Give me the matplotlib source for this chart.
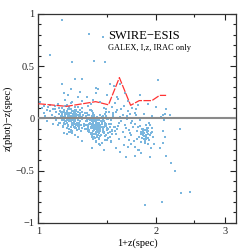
import matplotlib
matplotlib.use("Agg")
import matplotlib.pyplot as plt
from matplotlib.ticker import FixedLocator, MultipleLocator, NullFormatter, FixedFormatter

# ---- data ----
xa = [1.01,1.02,1.03,1.03,1.04,1.05,1.05,1.06,1.07,1.08,1.09,1.09,1.10,1.10,1.11,1.11,1.12,1.12,1.13,1.13,1.13,1.07,1.12,1.10]
ya = [0.16,0.10,0.12,0.05,0.02,0.08,-0.03,0.11,0.07,0.03,0.09,-0.05,0.12,0.01,-0.02,0.06,0.14,-0.06,0.04,-0.04,0.10,0.13,0.00,0.09]

xb = [1.15,1.18,1.21,1.24,1.27,1.16,1.19,1.22,1.25,1.28,
      1.17,1.20,1.23,1.26,1.29,1.15,1.19,1.22,1.24,1.27,
      1.16,1.18,1.20,1.23,1.25,1.28,1.17,1.21,1.24,1.26,
      1.15,1.18,1.20,1.22,1.25,1.27,1.29,1.16,1.19,1.23,
      1.17,1.20,1.22,1.24,1.26,1.28,1.15,1.18,1.21,1.25,
      1.16,1.19,1.21,1.23,1.26,1.29,1.17,1.20,1.22,1.24,
      1.18,1.21,1.23,1.27,1.15,1.19,1.22,1.25,1.28,1.17,
      1.20,1.24,1.26,1.16,1.18,1.21,1.23,1.27,1.29,1.19,
      1.22,1.25,1.17,1.20,1.24,1.26,1.18,1.21,1.23,1.28,
      1.16,1.19,1.22,1.25,1.27,1.20,1.23,1.18,1.21,1.24,
      1.15,1.21,1.28,1.17,1.24,1.19,1.29,1.26,1.22,1.16,
      1.18,1.22,1.26,1.29,1.20,1.24]
yb = [0.02,-0.01,0.05,-0.03,0.01,-0.05,0.03,-0.02,0.08,-0.06,
      0.00,0.04,-0.04,0.06,-0.01,0.10,-0.07,0.02,-0.09,0.03,
      -0.02,0.07,-0.03,0.01,-0.05,0.05,0.12,-0.08,0.00,-0.02,
      0.04,-0.04,0.09,-0.06,0.02,-0.10,0.01,0.06,-0.01,0.03,
      -0.03,0.00,0.07,-0.05,0.11,-0.03,-0.02,0.05,-0.11,0.04,
      0.01,-0.06,0.02,-0.08,-0.01,0.06,0.03,-0.03,-0.04,0.08,
      -0.02,0.09,-0.01,-0.07,0.06,0.01,-0.12,0.02,0.00,-0.05,
      0.05,-0.02,0.03,0.08,-0.09,0.00,0.04,-0.04,0.10,-0.02,
      0.01,-0.06,0.02,-0.01,0.05,-0.07,0.13,-0.03,0.06,0.02,
      -0.04,0.03,-0.02,0.07,-0.08,-0.10,-0.05,0.00,0.15,0.11,
      0.33,0.28,0.25,0.18,0.38,0.22,0.17,0.20,0.16,0.24,
      -0.15,-0.14,-0.18,-0.22,-0.13,-0.16]

xh = [1.135,1.145,1.155,1.165,1.175,1.185,1.195,1.205,1.215,1.225,
      1.235,1.245,1.255,1.265,1.275,1.285,1.295,1.305,1.315,1.325,
      1.142,1.158,1.172,1.188,1.203,1.212,1.228,1.242,1.257,1.268,
      1.283,1.297,1.312,1.138,1.152,1.168,1.182,1.198,1.208,1.222,
      1.238,1.252,1.262,1.278,1.292,1.308,1.322,1.163,1.193,1.233]
yh = [-0.04,0.06,-0.08,0.01,-0.03,0.04,-0.10,0.02,-0.06,0.07,
      -0.01,-0.09,0.03,-0.05,0.08,-0.12,0.00,-0.07,0.05,-0.03,
      0.02,-0.02,-0.05,0.09,-0.01,-0.13,0.04,-0.08,-0.04,0.01,
      -0.06,0.03,-0.10,0.07,-0.07,0.05,-0.04,0.11,-0.02,-0.06,
      0.06,-0.11,-0.01,0.03,-0.09,-0.05,0.02,-0.14,0.00,-0.03]

xc = [1.33,1.36,1.39,1.42,1.45,1.48,1.51,1.34,1.37,1.40,
      1.43,1.46,1.49,1.35,1.38,1.41,1.44,1.47,1.50,1.33,
      1.36,1.39,1.42,1.45,1.48,1.34,1.37,1.40,1.43,1.46,
      1.41,1.38,1.44,1.40,1.42,1.39,1.43,1.41,1.37,1.45,
      1.35,1.38,1.41,1.44,1.47,1.50,1.36,1.39,1.42,1.40,
      1.43,1.41,1.38,1.44,1.46,1.33,1.37,1.40,1.42,1.39,
      1.41,1.43,1.45,1.48,1.35,1.38,1.40,1.42,1.44,1.36,
      1.39,1.41,1.43,1.47,1.34,1.37,1.40,1.42,1.38,1.41,
      1.44,1.46,1.49,1.52,1.35,1.39,1.43,1.40,1.42,1.41,
      1.37,1.45,1.38,1.44,1.40,1.36,1.43,1.39,1.41,1.42,
      1.34,1.38,1.42,1.47,1.50,1.36,1.44,1.40,1.49,1.33,
      1.37,1.43,1.47,1.40,1.51]
yc = [-0.03,-0.08,0.01,-0.12,-0.05,0.04,-0.10,-0.06,0.02,-0.15,
      -0.02,-0.09,0.06,-0.11,-0.04,-0.07,0.03,-0.13,-0.01,0.05,
      -0.14,-0.06,-0.09,0.00,-0.17,-0.08,-0.03,-0.10,-0.19,0.02,
      -0.05,-0.12,-0.07,-0.02,-0.16,-0.09,-0.04,-0.11,0.07,-0.08,
      -0.01,-0.06,-0.13,-0.10,-0.03,-0.21,-0.09,-0.18,-0.05,-0.08,
      -0.14,0.01,-0.20,-0.06,-0.12,-0.10,-0.07,-0.04,-0.02,-0.15,
      -0.09,-0.11,-0.24,0.00,-0.05,-0.01,-0.13,-0.07,-0.17,0.08,
      -0.03,-0.10,-0.06,-0.14,-0.12,-0.16,-0.22,-0.04,-0.08,-0.02,
      -0.26,-0.09,-0.05,-0.13,0.03,-0.11,-0.01,-0.07,-0.12,-0.18,
      -0.05,-0.03,0.04,-0.08,-0.06,-0.02,-0.20,-0.10,-0.04,-0.09,
      0.12,0.18,0.28,0.10,0.22,0.14,0.16,0.24,0.09,0.20,
      -0.28,-0.25,-0.30,-0.23,-0.19]

xi = [1.325,1.335,1.345,1.355,1.365,1.375,1.385,1.395,1.405,1.415,
      1.425,1.435,1.445,1.455,1.465,1.475,1.485,1.495,1.505,1.515,
      1.525,1.535,1.545,1.555,1.565,1.575,1.332,1.348,1.362,1.378,
      1.392,1.408,1.422,1.438,1.452,1.468,1.482,1.498,1.512,1.528,
      1.342,1.358,1.372,1.388,1.402,1.418,1.432,1.448,1.462,1.478,
      1.492,1.508,1.522,1.538,1.352,1.368,1.398,1.428,1.458,1.488]
yi = [-0.06,0.03,-0.11,-0.02,-0.15,0.05,-0.08,-0.19,-0.03,-0.12,
      0.00,-0.07,-0.16,-0.04,-0.10,-0.21,0.02,-0.09,-0.14,-0.05,
      -0.18,-0.02,-0.11,0.04,-0.08,-0.15,-0.01,-0.13,-0.05,-0.09,
      -0.02,-0.17,-0.06,-0.12,0.01,-0.08,-0.04,-0.11,0.06,-0.23,
      -0.09,-0.04,-0.14,0.03,-0.07,-0.10,-0.20,-0.03,-0.13,-0.06,
      -0.16,-0.01,-0.08,-0.12,0.08,-0.18,-0.10,-0.05,-0.02,-0.07]

xd = [1.53,1.55,1.57,1.59,1.61,1.63,1.65,1.67,1.69,1.71,
      1.54,1.56,1.58,1.60,1.62,1.64,1.66,1.68,1.70,1.73,
      1.53,1.57,1.61,1.65,1.69,1.55,1.59,1.63,1.67,1.72,
      1.54,1.58,1.62,1.66,1.70,1.56,1.60,1.64,1.68,1.72,
      1.56,1.62,1.66,1.69,1.59,1.74,1.71,1.75,1.73,1.72]
yd = [-0.05,0.02,-0.12,0.08,-0.20,-0.03,0.12,-0.09,-0.27,0.04,
      -0.15,0.00,0.06,-0.07,-0.32,0.03,-0.18,-0.01,-0.11,0.10,
      -0.22,0.15,-0.04,-0.26,0.07,0.05,-0.10,0.09,-0.37,-0.16,
      0.11,-0.28,0.01,-0.06,-0.21,-0.08,0.19,-0.13,0.02,-0.04,
      0.31,0.33,0.24,0.17,0.20,-0.08,-0.14,-0.22,-0.03,-0.25]

xe = [1.76,1.79,1.82,1.85,1.88,1.91,1.94,1.97,1.78,1.81,
      1.84,1.87,1.90,1.93,1.96,1.77,1.80,1.83,1.86,1.89,
      1.92,1.95,1.84,1.86,1.88,1.85,1.87,1.83,1.89,1.86,
      1.91,1.94,1.82,1.85,1.88,1.90,1.93,1.79,1.84,1.87,
      1.92,1.95,1.81,1.86,1.89,1.76,1.83,1.88,1.91,1.85,
      1.78,1.82,1.90,1.95,1.80,1.86,1.77,1.83,1.93,1.80]
ye = [-0.05,-0.12,-0.02,-0.16,-0.20,-0.09,-0.14,-0.25,0.03,-0.18,
      -0.10,-0.22,-0.15,-0.06,-0.18,-0.27,-0.08,-0.13,-0.17,-0.11,
      -0.21,-0.13,-0.19,-0.14,-0.16,-0.12,-0.24,-0.15,-0.09,-0.20,
      -0.12,-0.28,-0.07,-0.10,-0.18,-0.25,-0.16,-0.20,-0.14,-0.11,
      -0.04,-0.09,-0.30,-0.17,-0.13,0.05,-0.23,-0.06,-0.19,-0.15,
      0.09,0.22,0.14,0.02,0.13,0.04,-0.36,-0.33,-0.37,-0.30]

xf = [2.02,2.00,2.12,2.08,2.17,2.06,2.09,2.30,2.08,2.11,2.08,2.04,2.12,2.18,2.24,2.32,2.44,2.07,1.87,2.10]
yf = [0.37,0.11,0.09,0.03,0.035,0.01,-0.02,-0.105,-0.125,-0.18,-0.24,-0.285,-0.36,-0.43,-0.50,-0.72,-0.71,-0.80,-0.83,0.04]

xg = [1.15,1.35,1.46,1.07,1.22,1.39,1.48,1.29,1.52,1.40]
yg = [0.94,0.805,0.78,0.61,0.54,0.546,0.54,0.38,0.326,0.294]

# binned scatter curve (red)
line_x = [1.00,1.18,1.40,1.51,1.61,1.72,1.81,1.95,2.04,2.12]
line_y = [0.14,0.115,0.16,0.13,0.39,0.125,0.17,0.17,0.22,0.22]

title_main = "SWIRE\u2212ESIS"
title_sub = "GALEX, I,z, IRAC only"
xlabel = "1+z(spec)"
ylabel = "z(phot)\u2212z(spec)"

# ---- plot ----
plt.rcParams['font.family'] = ['Liberation Serif', 'DejaVu Serif']
plt.rcParams['axes.unicode_minus'] = True

fig = plt.figure(figsize=(2.49, 2.49), dpi=100)
ax = fig.add_axes([0.1546, 0.1056, 0.7934, 0.8382])

pts_color = '#7ab6de'
for xs, ys in [(xa, ya), (xb, yb), (xh, yh), (xc, yc), (xi, yi), (xd, yd), (xe, ye), (xf, yf), (xg, yg)]:
    ax.scatter(xs, ys, s=1.6, marker='s', color=pts_color, linewidths=0, zorder=2)

ax.axhline(0, color='#8a8a8a', lw=1.5, zorder=3)
ax.plot(line_x, line_y, color='#ff3333', lw=0.9, dashes=(6, 1.2), zorder=4)

ax.set_xscale('log')
ax.set_xlim(1.0, 3.2)
ax.set_ylim(-1, 1)

ax.xaxis.set_major_locator(FixedLocator([1, 2, 3]))
ax.xaxis.set_major_formatter(FixedFormatter(['1', '2', '3']))
ax.xaxis.set_minor_locator(FixedLocator([1.5, 2.5]))
ax.xaxis.set_minor_formatter(NullFormatter())
ax.yaxis.set_major_locator(FixedLocator([-1, -0.5, 0, 0.5, 1]))
ax.yaxis.set_major_formatter(FixedFormatter(['\u22121', '\u22120.5', '0', '0.5', '1']))
ax.yaxis.set_minor_locator(MultipleLocator(0.1))

ax.tick_params(which='both', direction='in', top=True, right=True, labelsize=7.5, colors='#222222', width=0.8)
ax.tick_params(which='major', length=4.5, pad=3)
ax.tick_params(which='minor', length=2.2)
for s in ax.spines.values():
    s.set_linewidth(0.9)
    s.set_color('#333333')

ax.set_xlabel(xlabel, fontsize=7.5, labelpad=2)
ax.set_ylabel(ylabel, fontsize=7.5, labelpad=2)

ax.text(0.35, 0.895, title_main, transform=ax.transAxes, fontsize=9, ha='left', va='center')
ax.text(0.35, 0.835, title_sub, transform=ax.transAxes, fontsize=6, ha='left', va='center')

fig.savefig('out.png', dpi=100)
